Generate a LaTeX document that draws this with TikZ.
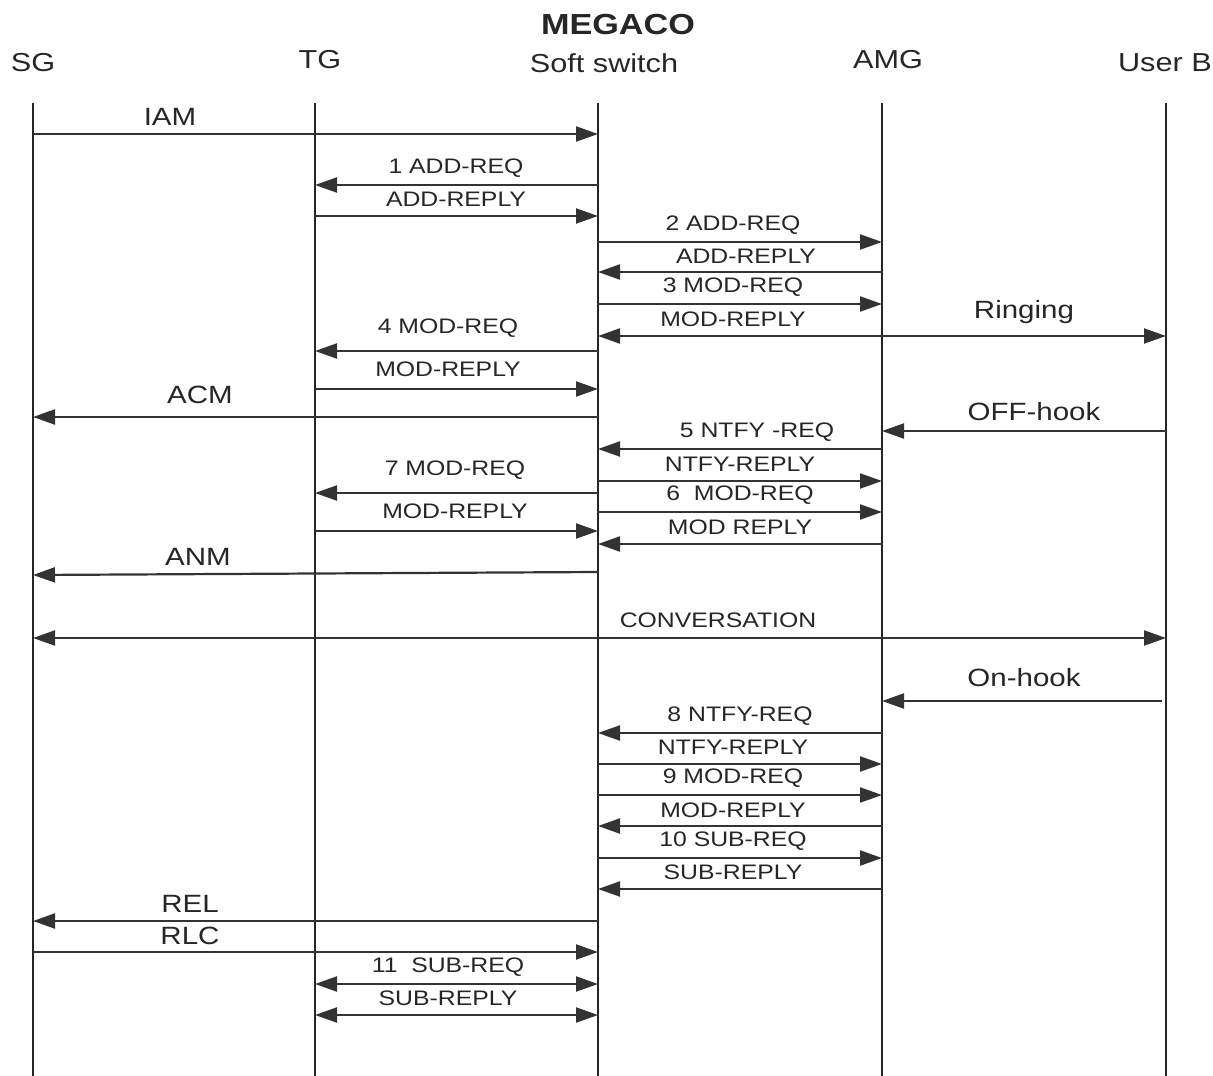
\documentclass[tikz,border=0pt]{standalone}
\usepackage{fontspec}
\setmainfont{Liberation Sans}[FakeStretch=1.18]
\usetikzlibrary{arrows.meta}
\tikzset{
  life/.style={draw=black!85, line width=1.4pt},
  msg/.style={draw=black!80, line width=2.2pt, -{Triangle[length=22pt,width=15pt]}},
  dmsg/.style={draw=black!80, line width=2.2pt, {Triangle[length=22pt,width=15pt]}-{Triangle[length=22pt,width=15pt]}},
  hdr/.style={font=\fontsize{26}{28}\selectfont, text=black!85, inner sep=0pt},
  big/.style={font=\fontsize{25}{27}\selectfont, text=black!85, inner sep=0pt},
  lbl/.style={font=\fontsize{21}{23}\selectfont, text=black!85, inner sep=0pt}
}
\begin{document}
\begin{tikzpicture}[x=1pt,y=-1pt]
\useasboundingbox (0,0) rectangle (1213,1076);
% title
\node[font=\bfseries\fontsize{29}{31}\selectfont, text=black!85, inner sep=0pt] (title) at (618,25) {MEGACO};
% headers
\node[hdr] (hSG) at (33,63) {SG};
\node[hdr] (hTG) at (320,60) {TG};
\node[hdr] (hSS) at (604,63) {Soft switch};
\node[hdr] (hAMG) at (888,60) {AMG};
\node[hdr, anchor=east] (hUB) at (1212,63) {User B};
% lifeline coordinates
\coordinate (SG) at (33,103);
\coordinate (TG) at (315,103);
\coordinate (SS) at (598,103);
\coordinate (AMG) at (882,103);
\coordinate (UB) at (1166,103);
\foreach \c in {SG,TG,SS,AMG,UB}{
  \draw[life] (\c) -- (\c |- 0,1076);
}
% messages
\draw[msg] (SG |- 0,134) -- (SS |- 0,134);
\node[big] (mIAM) at (170,117) {IAM};

\draw[msg] (SS |- 0,185) -- (TG |- 0,185);
\node[lbl] (m1) at (456,168) {1 ADD-REQ};
\draw[msg] (TG |- 0,216) -- (SS |- 0,216);
\node[lbl] (m1r) at (456,199) {ADD-REPLY};

\draw[msg] (SS |- 0,242) -- (AMG |- 0,242);
\node[lbl] (m2) at (733,225) {2 ADD-REQ};
\draw[msg] (AMG |- 0,272) -- (SS |- 0,272);
\node[lbl] (m2r) at (746,256) {ADD-REPLY};
\draw[msg] (SS |- 0,304) -- (AMG |- 0,304);
\node[lbl] (m3) at (733,287) {3 MOD-REQ};
\draw[msg] (AMG |- 0,336) -- (SS |- 0,336);
\node[lbl] (m3r) at (733,319) {MOD-REPLY};
\draw[msg] (AMG |- 0,336) -- (UB |- 0,336);
\node[big] (mRing) at (1024,312) {Ringing};

\draw[msg] (SS |- 0,351) -- (TG |- 0,351);
\node[lbl] (m4) at (448,328) {4 MOD-REQ};
\draw[msg] (TG |- 0,389) -- (SS |- 0,389);
\node[lbl] (m4r) at (448,369) {MOD-REPLY};

\draw[msg] (SS |- 0,417) -- (SG |- 0,417);
\node[big] (mACM) at (200,395) {ACM};

\draw[msg] (UB |- 0,431) -- (AMG |- 0,431);
\node[big] (mOff) at (1034,412) {OFF-hook};

\draw[msg] (AMG |- 0,449) -- (SS |- 0,449);
\node[lbl] (m5) at (757,432) {5 NTFY -REQ};
\draw[msg] (SS |- 0,481) -- (AMG |- 0,481);
\node[lbl] (m5r) at (740,464) {NTFY-REPLY};
\draw[msg] (SS |- 0,493) -- (TG |- 0,493);
\node[lbl] (m7) at (455,470) {7 MOD-REQ};
\draw[msg] (SS |- 0,512) -- (AMG |- 0,512);
\node[lbl] (m6) at (740,495) {6\ \ MOD-REQ};
\draw[msg] (TG |- 0,531) -- (SS |- 0,531);
\node[lbl] (m7r) at (455,511) {MOD-REPLY};
\draw[msg] (AMG |- 0,544) -- (SS |- 0,544);
\node[lbl] (m6r) at (740,527) {MOD REPLY};

\draw[msg] (SS |- 0,572) -- (SG |- 0,575);
\node[big] (mANM) at (198,557) {ANM};

\draw[dmsg] (SG |- 0,638) -- (UB |- 0,638);
\node[lbl] (mConv) at (718,620) {CONVERSATION};

\draw[msg] (1162,701) -- (AMG |- 0,701);
\node[big] (mOn) at (1024,678) {On-hook};

\draw[msg] (AMG |- 0,733) -- (SS |- 0,733);
\node[lbl] (m8) at (740,716) {8 NTFY-REQ};
\draw[msg] (SS |- 0,764) -- (AMG |- 0,764);
\node[lbl] (m8r) at (733,747) {NTFY-REPLY};
\draw[msg] (SS |- 0,795) -- (AMG |- 0,795);
\node[lbl] (m9) at (733,778) {9 MOD-REQ};
\draw[msg] (AMG |- 0,826) -- (SS |- 0,826);
\node[lbl] (m9r) at (733,810) {MOD-REPLY};
\draw[msg] (SS |- 0,858) -- (AMG |- 0,858);
\node[lbl] (m10) at (733,841) {10 SUB-REQ};
\draw[msg] (AMG |- 0,889) -- (SS |- 0,889);
\node[lbl] (m10r) at (733,872) {SUB-REPLY};

\draw[msg] (SS |- 0,921) -- (SG |- 0,921);
\node[big] (mREL) at (190,904) {REL};
\draw[msg] (SG |- 0,952) -- (SS |- 0,952);
\node[big] (mRLC) at (190,936) {RLC};

\draw[dmsg] (TG |- 0,984) -- (SS |- 0,984);
\node[lbl] (m11) at (448,967) {11\ \ SUB-REQ};
\draw[dmsg] (TG |- 0,1015) -- (SS |- 0,1015);
\node[lbl] (m11r) at (448,998) {SUB-REPLY};
\end{tikzpicture}
\end{document}
